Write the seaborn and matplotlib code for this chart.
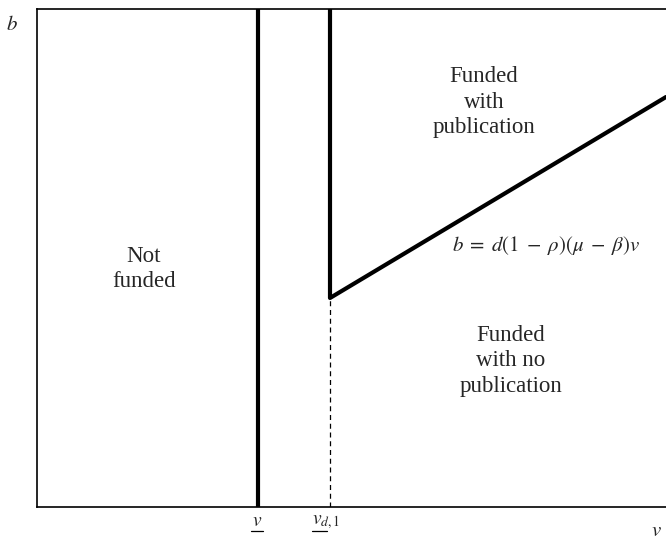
import numpy as np
import pandas as pd
import seaborn as sns
import matplotlib.pyplot as plt
from matplotlib.lines import Line2D

# thresholds and boundary (in plot units)
v_low = 221
v_d1 = 293
b_kink = 209
v_end = 629
b_end = 410

sns.set_style("white")
plt.rcParams['font.family'] = ['Liberation Serif', 'DejaVu Serif']
plt.rcParams['mathtext.fontset'] = 'stix'

W, H = 666, 543
fig = plt.figure(figsize=(W / 100, H / 100), dpi=100)
ax = fig.add_axes([37 / W, 36 / H, 629 / W, 498 / H])

# publication boundary b = d(1-rho)(mu-beta)v
edge = pd.DataFrame({"v": [v_d1, v_end], "b": [b_kink, b_end]})
sns.lineplot(data=edge, x="v", y="b", color="black", linewidth=3.0, ax=ax)

# funding thresholds
ax.axvline(v_low, color="black", linewidth=3.0)
ax.plot([v_d1, v_d1], [b_kink, 498], color="black", linewidth=3.0, solid_capstyle="butt")
ax.plot([v_d1, v_d1], [0, b_kink], color="black", linewidth=0.9, linestyle=(0, (4, 3)))

ax.set_xlim(0, 629)
ax.set_ylim(0, 498)
ax.set_xticks([])
ax.set_yticks([])
ax.set_xlabel("")
ax.set_ylabel("")
for side in ["left", "top", "bottom"]:
    ax.spines[side].set_linewidth(1.2)
    ax.spines[side].set_color("black")
ax.spines["right"].set_visible(False)

fs = 16.5
ax.text(107, 238, "Not\nfunded", ha="center", va="center", fontsize=fs, linespacing=1.26)
ax.text(447, 405, "Funded\nwith\npublication", ha="center", va="center", fontsize=fs, linespacing=1.3)
ax.text(474, 146, "Funded\nwith no\npublication", ha="center", va="center", fontsize=fs, linespacing=1.3)
ax.text(509, 262, r"$b\;=\;d(1\;-\;\rho)(\mu\;-\;\beta)v$", ha="center", va="center", fontsize=15)

# axis names
fig.text(12 / W, 1 - 26 / H, r"$b$", fontsize=15, ha="center", va="center")
fig.text(656 / W, 1 - 532 / H, r"$v$", fontsize=15, ha="center", va="center")

# underlined threshold labels
fig.text(257 / W, 1 - 522 / H, r"$v$", fontsize=14, ha="center", va="center")
fig.text(312 / W, 1 - 522 / H, r"$v_{d,1}$", fontsize=14, ha="left", va="center")
for x0, x1 in [(251, 263), (312, 327)]:
    fig.add_artist(Line2D([x0 / W, x1 / W], [1 - 531 / H, 1 - 531 / H],
                          color="black", linewidth=0.9, transform=fig.transFigure))

fig.savefig("out.png", dpi=100)
